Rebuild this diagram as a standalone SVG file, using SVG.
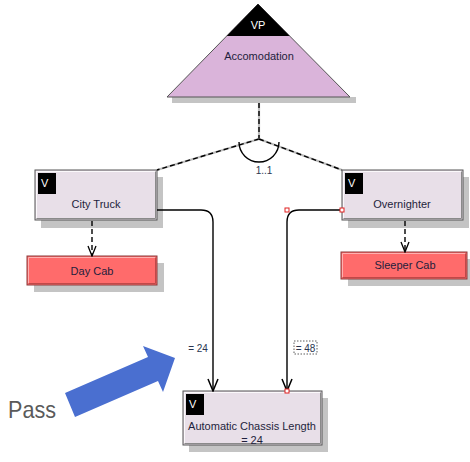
<svg xmlns="http://www.w3.org/2000/svg" width="470" height="462" viewBox="0 0 470 462">
<style>
  .t{font-family:"Liberation Sans",Arial,sans-serif;font-size:11px;fill:#1e1e3c;text-anchor:middle}
  .v{font-family:"Liberation Sans",Arial,sans-serif;font-size:11px;fill:#ffffff}
  .shadow{fill:#c4c4c4}
  .box{fill:#e8dfe8;stroke:#555;stroke-width:1}
  .red{fill:#ff6b6b;stroke:#8a3a3a;stroke-width:1}
  .hl{fill:none;stroke:#ffffff;stroke-width:1;opacity:0.8}
  .dk{fill:none;stroke:#8a8a8a;stroke-width:1}
  .vsq{fill:#000}
  .dashbg{stroke:#bdbdbd;stroke-width:2.2;fill:none}
  .dash{stroke:#000;stroke-width:1.4;stroke-dasharray:5,3;fill:none}
  .solid{stroke:#000;stroke-width:1.4;fill:none}
  .lbl{font-family:"Liberation Sans",Arial,sans-serif;font-size:10px;fill:#2a3550;text-anchor:middle}
  .hnd{fill:#fff;stroke:#e02020;stroke-width:1}
</style>
<defs>
  <marker id="open" markerWidth="14" markerHeight="12" refX="13" refY="6" orient="auto" markerUnits="userSpaceOnUse" viewBox="0 0 14 12">
    <path d="M1,1 L13,6 L1,11" fill="none" stroke="#000" stroke-width="1.5"/>
  </marker>
  <marker id="openS" markerWidth="12" markerHeight="10" refX="11" refY="5" orient="auto" markerUnits="userSpaceOnUse" viewBox="0 0 12 10">
    <path d="M1,1 L11,5 L1,9" fill="none" stroke="#000" stroke-width="1.3"/>
  </marker>
  <clipPath id="tipclip"><rect x="150" y="0" width="220" height="36"/></clipPath>
</defs>

<!-- VP triangle -->
<g id="accomodation">
  <rect class="shadow" x="172" y="97" width="184" height="6"/>
  <polygon points="258,4 350,97 167,97" fill="#dab4da" stroke="#555" stroke-width="1"/>
  <polygon points="258,4 350,97 167,97" fill="#000" clip-path="url(#tipclip)"/>
  <text class="v" x="258" y="29" text-anchor="middle">VP</text>
  <text class="t" x="259" y="60">Accomodation</text>
</g>

<!-- City Truck -->
<g id="city-truck">
  <rect class="shadow" x="41" y="177" width="122" height="51"/>
  <rect class="box" x="35" y="170" width="122" height="50"/>
  <polyline class="hl" points="36.5,218.5 36.5,171.5 155.5,171.5"/>
  <polyline class="dk" points="36.5,218.5 155.5,218.5 155.5,171.5"/>
  <rect class="vsq" x="38" y="173" width="18" height="21"/>
  <text class="v" x="41" y="187">V</text>
  <text class="t" x="96" y="208">City Truck</text>
</g>

<!-- Overnighter -->
<g id="overnighter">
  <rect class="shadow" x="348" y="177" width="121" height="51"/>
  <rect class="box" x="342" y="170" width="121" height="50"/>
  <polyline class="hl" points="343.5,218.5 343.5,171.5 461.5,171.5"/>
  <polyline class="dk" points="343.5,218.5 461.5,218.5 461.5,171.5"/>
  <rect class="vsq" x="345" y="173" width="18" height="21"/>
  <text class="v" x="348" y="187">V</text>
  <text class="t" x="402" y="208">Overnighter</text>
</g>

<!-- Day Cab -->
<g id="day-cab">
  <rect class="shadow" x="34" y="263" width="130" height="29"/>
  <rect class="red" x="27" y="256" width="130" height="29"/>
  <polyline fill="none" stroke="#ffb0b0" stroke-width="1" points="28.5,283.5 28.5,257.5 155.5,257.5"/>
  <polyline fill="none" stroke="#c04848" stroke-width="1" points="28.5,283.5 155.5,283.5 155.5,257.5"/>
  <text class="t" x="92" y="275">Day Cab</text>
</g>

<!-- Sleeper Cab -->
<g id="sleeper-cab">
  <rect class="shadow" x="348" y="259" width="126" height="27"/>
  <rect class="red" x="341" y="252" width="126" height="27"/>
  <polyline fill="none" stroke="#ffb0b0" stroke-width="1" points="342.5,277.5 342.5,253.5 465.5,253.5"/>
  <polyline fill="none" stroke="#c04848" stroke-width="1" points="342.5,277.5 465.5,277.5 465.5,253.5"/>
  <text class="t" x="405" y="269">Sleeper Cab</text>
</g>

<!-- Automatic Chassis Length -->
<g id="automatic-chassis-length">
  <rect class="shadow" x="189" y="398" width="139" height="54"/>
  <rect class="box" x="183" y="391" width="139" height="54"/>
  <polyline class="hl" points="184.5,443.5 184.5,392.5 320.5,392.5"/>
  <polyline class="dk" points="184.5,443.5 320.5,443.5 320.5,392.5"/>
  <rect class="vsq" x="186" y="394" width="18" height="21"/>
  <text class="v" x="189" y="408">V</text>
  <text class="t" x="252" y="430">Automatic Chassis Length</text>
  <text class="t" x="252" y="444">= 24</text>
</g>

<!-- connectors -->
<g id="connectors">
  <line class="dashbg" x1="259" y1="103" x2="259" y2="139"/>
  <line class="dash" x1="259" y1="103" x2="259" y2="139"/>
  <line class="dashbg" x1="259" y1="139" x2="157" y2="170"/>
  <line class="dash" x1="259" y1="139" x2="157" y2="170"/>
  <line class="dashbg" x1="259" y1="139" x2="342" y2="170"/>
  <line class="dash" x1="259" y1="139" x2="342" y2="170"/>
  <path class="solid" d="M239,142 A20,20 0 0 0 279,142"/>
  <text class="lbl" x="264" y="174">1..1</text>

  <line class="dash" x1="92" y1="221" x2="92" y2="256" marker-end="url(#openS)"/>
  <line class="dash" x1="405" y1="221" x2="405" y2="252" marker-end="url(#openS)"/>

  <path class="solid" d="M157,210 L201,210 Q213,210 213,222 L213,391" marker-end="url(#open)"/>
  <path class="solid" d="M342,210 L299,210 Q287,210 287,222 L287,391" marker-end="url(#open)"/>
  <text class="lbl" x="198" y="352">= 24</text>
  <rect x="294" y="341" width="23" height="13" fill="none" stroke="#333" stroke-width="0.8" stroke-dasharray="1.5,1.5"/>
  <text class="lbl" x="305.5" y="352">= 48</text>
  <rect class="hnd" x="285" y="208" width="4" height="4"/>
  <rect class="hnd" x="340" y="208" width="4" height="4"/>
  <rect class="hnd" x="285" y="389" width="4" height="4"/>
</g>

<!-- Pass annotation -->
<g id="pass">
  <polygon points="65,393 148,357 143,346 175,358 163,392 158,381 75,417" fill="#4a6fd0"/>
  <text x="8" y="418" font-family="Liberation Sans,Arial,sans-serif" font-size="24" fill="#5a5a5a" textLength="48" lengthAdjust="spacingAndGlyphs">Pass</text>
</g>
</svg>
